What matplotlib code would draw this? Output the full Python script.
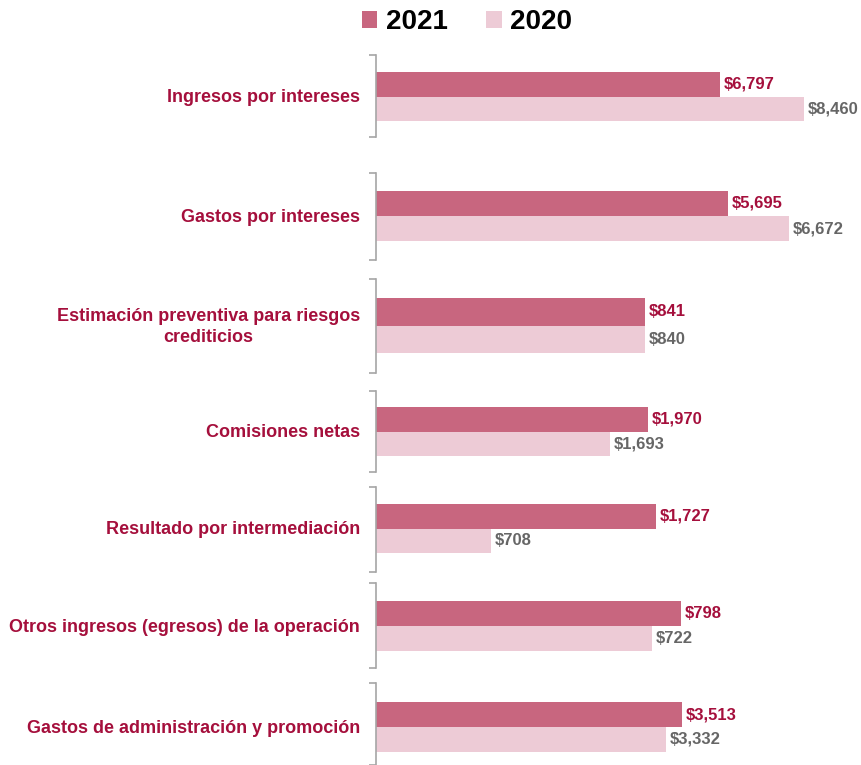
import matplotlib
matplotlib.use("Agg")
import matplotlib.pyplot as plt
from matplotlib.patches import Patch

plt.rcParams['font.family'] = ['Liberation Sans', 'DejaVu Sans']

# ---- data ----
categories = [
    "Ingresos por intereses",
    "Gastos por intereses",
    "Estimación preventiva para riesgos\ncrediticios",
    "Comisiones netas",
    "Resultado por intermediación",
    "Otros ingresos (egresos) de la operación",
    "Gastos de administración y promoción",
]
values_2021 = [6797, 5695, 841, 1970, 1727, 798, 3513]
values_2020 = [8460, 6672, 840, 1693, 708, 722, 3332]
series_labels = ["2021", "2020"]
# each category is drawn on its own scale (upper limit of each panel's value axis)
panel_xmax = [9370, 7665, 1482, 3432, 2925, 1242, 5444]

# ---- style / layout ----
W, H = 862, 765
c2021 = '#C8667F'
c2020 = '#EDCBD6'
crimson = '#A50F3C'
gray_txt = '#666666'
spine_col = '#A6A6A6'

panel_top = [55, 173, 279, 391, 487, 583, 683]
panel_bot = [137, 260, 373, 472, 572, 668, 765]
bar_top = [72, 191, 298, 407, 504, 601, 702]
bar_bot = [121, 241, 353, 456, 553, 651, 752]
ax_left, ax_right = 376, 850

fig = plt.figure(figsize=(W / 100, H / 100), dpi=100)

for i, cat in enumerate(categories):
    t, b = panel_top[i], panel_bot[i]
    ax = fig.add_axes([ax_left / W, 1 - b / H, (ax_right - ax_left) / W, (b - t) / H])
    unit = (bar_bot[i] - bar_top[i]) / 2.0
    y_hi = -0.5 - (bar_top[i] - t) / unit
    y_lo = 1.5 + (b - bar_bot[i]) / unit
    ax.barh([0], [values_2021[i]], height=1.0, color=c2021, align='center')
    ax.barh([1], [values_2020[i]], height=1.0, color=c2020, align='center')
    ax.set_xlim(0, panel_xmax[i])
    ax.set_ylim(y_lo, y_hi)
    for s in ['top', 'right', 'bottom']:
        ax.spines[s].set_visible(False)
    ax.spines['left'].set_color(spine_col)
    ax.spines['left'].set_linewidth(1.2)
    ax.set_xticks([])
    ax.set_yticks([y_lo, y_hi])
    ax.set_yticklabels([])
    ax.tick_params(axis='y', direction='out', length=5, width=1.2, color=spine_col)
    # value labels
    off = panel_xmax[i] * 4 / (ax_right - ax_left)
    ax.text(values_2021[i] + off, 0, f"${values_2021[i]:,}", va='center', ha='left',
            fontsize=12, fontweight='bold', color=crimson)
    ax.text(values_2020[i] + off, 1, f"${values_2020[i]:,}", va='center', ha='left',
            fontsize=12, fontweight='bold', color=gray_txt)
    # category label
    ax.text(-16 * panel_xmax[i] / (ax_right - ax_left), 0.55, cat, ha='right', va='center',
            multialignment='center', fontsize=13, fontweight='bold', color=crimson,
            linespacing=1.3, clip_on=False)

handles = [Patch(facecolor=c2021, edgecolor='none'), Patch(facecolor=c2020, edgecolor='none')]
fig.legend(handles, series_labels, loc='center', bbox_to_anchor=(467 / W, 1 - 22 / H),
           ncol=2, frameon=False, prop={'size': 20, 'weight': 'bold'},
           handlelength=0.55, handleheight=0.55, handletextpad=0.3, columnspacing=1.4)

fig.savefig("out.png", dpi=100)
